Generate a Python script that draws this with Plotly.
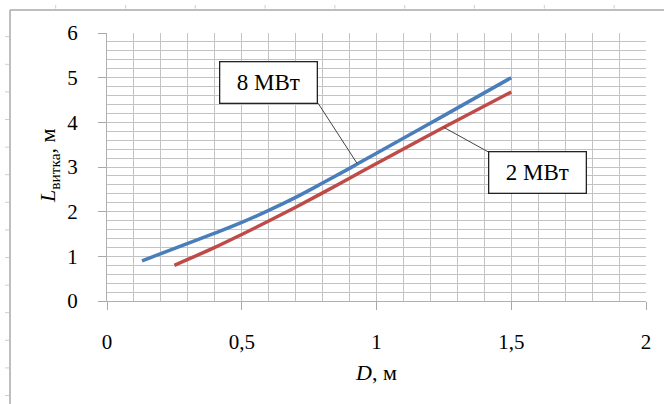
import plotly.graph_objects as go

# ---- data ----
d_8mw = [0.13, 0.2, 0.3, 0.4, 0.5, 0.6, 0.7, 0.8, 0.9, 1.0, 1.25, 1.5]
l_8mw = [0.90, 1.06, 1.29, 1.52, 1.76, 2.03, 2.32, 2.64, 2.97, 3.31, 4.15, 5.00]

d_2mw = [0.25, 0.3, 0.4, 0.5, 0.6, 0.7, 0.8, 0.9, 1.0, 1.25, 1.5]
l_2mw = [0.80, 0.93, 1.20, 1.49, 1.79, 2.10, 2.42, 2.75, 3.08, 3.89, 4.68]

x_ticks = [0, 0.5, 1, 1.5, 2]
x_tick_labels = ["0", "0,5", "1", "1,5", "2"]
y_ticks = [0, 1, 2, 3, 4, 5, 6]

FONT = "Liberation Serif"
W, H = 664, 404
ML, MR, MT, MB = 107, 18, 33, 103
PW, PH = W - ML - MR, H - MT - MB


def px(x):
    return (x - ML) / PW


def py(y):
    return (H - MB - y) / PH


fig = go.Figure()
fig.add_trace(go.Scatter(x=d_8mw, y=l_8mw, mode="lines", name="8 МВт",
                         line=dict(color="#4a7ebb", width=3.5, shape="spline", smoothing=1.0)))
fig.add_trace(go.Scatter(x=d_2mw, y=l_2mw, mode="lines", name="2 МВт",
                         line=dict(color="#be4b48", width=3.5, shape="spline", smoothing=1.0)))

grid = "#c3c3c3"
fig.update_xaxes(range=[0, 2], tickvals=x_ticks, ticktext=x_tick_labels,
                 showgrid=True, gridcolor=grid, gridwidth=1,
                 minor=dict(dtick=0.1, showgrid=True, gridcolor=grid, gridwidth=1),
                 ticks="outside", ticklen=8, tickcolor="#a8a8a8", tickwidth=1,
                 showline=True, linecolor="#b0b0b0", linewidth=1,
                 mirror=False, zeroline=False, ticklabelstandoff=14,
                 tickfont=dict(family=FONT, size=21, color="black"))
fig.update_yaxes(range=[0, 6], tickvals=y_ticks,
                 showgrid=True, gridcolor=grid, gridwidth=1,
                 minor=dict(dtick=0.2, showgrid=True, gridcolor=grid, gridwidth=1),
                 ticks="outside", ticklen=8, tickcolor="#a8a8a8", tickwidth=1,
                 showline=True, linecolor="#b0b0b0", linewidth=1,
                 zeroline=False, ticklabelstandoff=16,
                 tickfont=dict(family=FONT, size=21, color="black"))

annotations = [
    dict(text="<i>L</i><sub>витка</sub>, м", xref="paper", yref="paper",
         x=px(49), y=py(166), textangle=-90, showarrow=False,
         xanchor="center", yanchor="middle",
         font=dict(family=FONT, size=22, color="black")),
    dict(text="<i>D</i>, м", xref="paper", yref="paper",
         x=px(376), y=py(372), showarrow=False,
         xanchor="center", yanchor="middle",
         font=dict(family=FONT, size=22, color="black")),
    dict(text="8 МВт", x=0.601, y=4.90, xref="x", yref="y", showarrow=False,
         width=92, height=36, borderpad=2, bordercolor="#222222", borderwidth=1.3,
         bgcolor="white", font=dict(family=FONT, size=23, color="black")),
    dict(text="2 МВт", x=1.596, y=2.87, xref="x", yref="y", showarrow=False,
         width=92, height=36, borderpad=2, bordercolor="#222222", borderwidth=1.3,
         bgcolor="white", font=dict(family=FONT, size=23, color="black")),
]

shapes = [
    # leader lines
    dict(type="line", xref="x", yref="y", x0=0.783, y0=4.43, x1=0.928, y1=3.08,
         line=dict(color="#444444", width=1)),
    dict(type="line", xref="x", yref="y", x0=1.414, y0=3.34, x1=1.249, y1=3.89,
         line=dict(color="#444444", width=1)),
    # outer chart frame (left and top edges)
    dict(type="line", xref="paper", yref="paper", x0=px(10), y0=py(10), x1=px(10), y1=py(410),
         line=dict(color="#a9a9a9", width=1.5)),
    dict(type="line", xref="paper", yref="paper", x0=px(10), y0=py(10), x1=px(670), y1=py(10),
         line=dict(color="#a9a9a9", width=1.5)),
]
# ruler marks
for i in range(14):
    yy = 36.7 + i * 27.6
    shapes.append(dict(type="line", xref="paper", yref="paper", x0=px(5), x1=px(9),
                       y0=py(yy), y1=py(yy), line=dict(color="#c8d0dc", width=1)))
for i in range(10):
    xx = 55.7 + i * 69.8
    shapes.append(dict(type="line", xref="paper", yref="paper", x0=px(xx), x1=px(xx),
                       y0=py(5), y1=py(8.5), line=dict(color="#c8d0dc", width=1)))

fig.update_layout(width=W, height=H, margin=dict(l=ML, r=MR, t=MT, b=MB),
                  paper_bgcolor="white", plot_bgcolor="white", showlegend=False,
                  annotations=annotations, shapes=shapes)

fig.write_html("out.html", config={"displayModeBar": False},
               post_script="document.body.style.margin='0px';document.body.style.overflow='hidden';")
